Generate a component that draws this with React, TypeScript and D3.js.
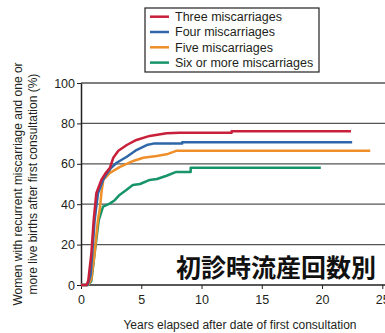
import React, { useRef, useEffect } from 'react';
import * as d3 from 'd3';

// years since first consultation, cumulative % with live birth
const threeMc: [number, number][] = [
  [0, 0], [0.45, 0], [0.6, 2], [0.86, 15.7], [1.05, 32], [1.27, 45.4], [1.69, 52], [2.0, 55],
  [2.4, 58], [2.68, 63], [3.1, 66.5], [3.8, 69.3], [4.6, 71.8], [5.7, 73.8], [7.1, 75.1],
  [8.2, 75.4], [12.5, 75.4], [12.5, 76.1], [22.4, 76.1],
];
const fourMc: [number, number][] = [
  [0, 0], [0.55, 0], [0.8, 5], [1.13, 32], [1.41, 45.4], [1.83, 52], [2.13, 55], [2.5, 58],
  [2.96, 60.5], [3.8, 63.5], [4.6, 66.8], [5.45, 69.3], [6.0, 70], [8.4, 70], [8.4, 70.7],
  [22.5, 70.7],
];
const fiveMc: [number, number][] = [
  [0, 0], [0.6, 0], [0.86, 3], [1.13, 15.7], [1.4, 32], [1.55, 37], [1.7, 46], [1.85, 52],
  [2.4, 55.5], [3.24, 58.5], [4.34, 61.4], [5.17, 63], [6.28, 63.9], [7.1, 64.7], [7.9, 66.4],
  [24.0, 66.4],
];
const sixPlusMc: [number, number][] = [
  [0, 0], [0.6, 0], [0.86, 2], [1.13, 15.7], [1.47, 32], [1.83, 38.8], [2.38, 40.3], [2.8, 42],
  [3.2, 44.6], [3.76, 47], [4.3, 49.5], [4.9, 50], [5.7, 52], [6.3, 52.5], [7.1, 54.1],
  [7.9, 56], [9.1, 56], [9.1, 58], [19.9, 58],
];

const seriesNames = ['Three miscarriages', 'Four miscarriages', 'Five miscarriages', 'Six or more miscarriages'];
const seriesColors = ['#c8203a', '#2e67a8', '#ef8f2a', '#17946a'];
const xTicks = [0, 5, 10, 15, 20, 25];
const yTicks = [0, 20, 40, 60, 80, 100];

const W = 385;
const H = 333;
const font = '"Liberation Sans", Arial, sans-serif';

const App = () => {
  const ref = useRef<SVGSVGElement>(null);

  useEffect(() => {
    const svg = d3.select(ref.current);
    svg.selectAll('*').remove();

    const x = d3.scaleLinear().domain([0, 25]).range([81, 382.3]);
    const y = d3.scaleLinear().domain([0, 100]).range([285, 83]);

    // gridlines
    svg.append('g')
      .selectAll('line')
      .data(yTicks.filter((t) => t > 0))
      .enter()
      .append('line')
      .attr('x1', x(0))
      .attr('x2', W)
      .attr('y1', (d) => y(d))
      .attr('y2', (d) => y(d))
      .attr('stroke', '#555')
      .attr('stroke-width', 1.3);

    // y axis
    const yAxis = svg.append('g')
      .attr('transform', `translate(${x(0)},0)`)
      .call(d3.axisLeft(y).tickValues(yTicks).tickSize(4).tickSizeOuter(0).tickPadding(2));
    yAxis.select('.domain').attr('stroke', '#231f20').attr('stroke-width', 1.5);
    yAxis.selectAll('.tick line').attr('stroke', '#231f20');
    yAxis.selectAll('text')
      .attr('fill', '#231f20')
      .style('font-family', font)
      .style('font-size', '12.5px');

    // x axis
    const xAxis = svg.append('g')
      .attr('transform', `translate(0,${y(0)})`)
      .call(d3.axisBottom(x).tickValues(xTicks).tickSize(4).tickSizeOuter(0).tickPadding(6));
    xAxis.select('.domain').attr('d', `M${x(0)},0H${W}`).attr('stroke', '#231f20').attr('stroke-width', 1.5);
    xAxis.selectAll('.tick line').attr('stroke', '#231f20');
    xAxis.selectAll('text')
      .attr('fill', '#231f20')
      .style('font-family', font)
      .style('font-size', '12.5px');

    // curves
    const line = d3.line<[number, number]>()
      .x((d) => x(d[0]))
      .y((d) => y(d[1]));

    [threeMc, fourMc, fiveMc, sixPlusMc].slice().reverse().forEach((s, i) => {
      svg.append('path')
        .datum(s)
        .attr('d', line)
        .attr('fill', 'none')
        .attr('stroke', seriesColors[3 - i])
        .attr('stroke-width', 2.5)
        .attr('stroke-linejoin', 'round');
    });

    // legend
    const lg = svg.append('g').attr('transform', 'translate(145,8)');
    lg.append('rect')
      .attr('width', 174)
      .attr('height', 64)
      .attr('fill', '#fff')
      .attr('stroke', '#231f20')
      .attr('stroke-width', 1.2);
    seriesNames.forEach((n, i) => {
      const ry = 8.7 + i * 15.3;
      lg.append('line')
        .attr('x1', 5).attr('x2', 24)
        .attr('y1', ry).attr('y2', ry)
        .attr('stroke', seriesColors[i])
        .attr('stroke-width', 2.5);
      lg.append('text')
        .attr('x', 30)
        .attr('y', ry + 4.3)
        .attr('fill', '#231f20')
        .style('font-family', font)
        .style('font-size', '12.5px')
        .text(n);
    });

    // axis titles
    svg.append('text')
      .attr('x', 240)
      .attr('y', 329)
      .attr('text-anchor', 'middle')
      .attr('fill', '#231f20')
      .style('font-family', font)
      .style('font-size', '12px')
      .text('Years elapsed after date of first consultation');

    const yl = svg.append('text')
      .attr('transform', 'translate(22,184)rotate(-90)')
      .attr('text-anchor', 'middle')
      .attr('fill', '#231f20')
      .style('font-family', font)
      .style('font-size', '12px');
    yl.append('tspan').attr('x', 0).attr('dy', 0).text('Women with recurrent miscarriage and one or');
    yl.append('tspan').attr('x', 0).attr('dy', 15).text('more live births after first consultation (%)');

    // Japanese caption
    svg.append('text')
      .attr('x', 376)
      .attr('y', 277)
      .attr('text-anchor', 'end')
      .attr('fill', '#111')
      .style('font-family', '"Noto Sans CJK JP", sans-serif')
      .style('font-weight', 'bold')
      .style('font-size', '25px')
      .text('初診時流産回数別');
  }, []);

  return (
    <svg
      ref={ref}
      width={W}
      height={H}
      style={{ position: 'absolute', left: 0, top: 0, background: '#fff' }}
    />
  );
};

export default App;
